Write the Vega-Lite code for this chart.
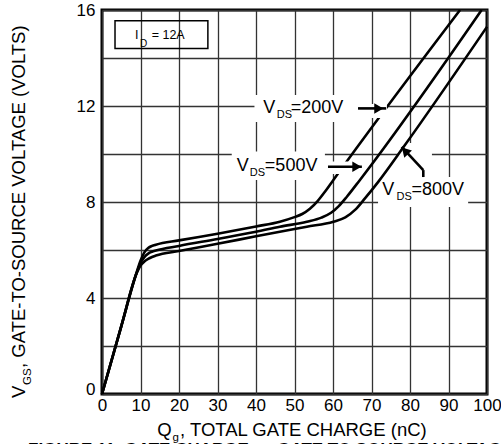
{
  "$schema": "https://vega.github.io/schema/vega-lite/v6.json",
  "width": 385,
  "height": 384,
  "autosize": {"type": "none"},
  "padding": {"left": 102, "top": 10, "right": 14, "bottom": 50},
  "config": {
    "font": "Liberation Sans",
    "view": {"stroke": "#000", "strokeWidth": 3},
    "axis": {
      "domain": false,
      "ticks": false,
      "tickSize": 0,
      "grid": true,
      "gridColor": "#333",
      "gridWidth": 1.3,
      "gridOpacity": 1,
      "labelFont": "Liberation Sans",
      "labelFontSize": 17,
      "labelColor": "#000",
      "title": null
    },
    "axisX": {"labelOverlap": false, "labelFlush": false, "labelPadding": 3},
    "axisY": {"labelOverlap": false, "labelPadding": 7}
  },
  "datasets": {
    "curves": [
      {"s": "200V", "x": 0, "y": 0}, {"s": "200V", "x": 5, "y": 2.82}, {"s": "200V", "x": 9, "y": 5.07},
      {"s": "200V", "x": 10, "y": 5.55}, {"s": "200V", "x": 11, "y": 5.9}, {"s": "200V", "x": 12, "y": 6.08},
      {"s": "200V", "x": 13, "y": 6.17}, {"s": "200V", "x": 14, "y": 6.22}, {"s": "200V", "x": 20, "y": 6.4},
      {"s": "200V", "x": 30, "y": 6.68}, {"s": "200V", "x": 40, "y": 6.98}, {"s": "200V", "x": 46.2, "y": 7.18},
      {"s": "200V", "x": 50, "y": 7.37}, {"s": "200V", "x": 52, "y": 7.5}, {"s": "200V", "x": 54, "y": 7.72},
      {"s": "200V", "x": 56, "y": 8.04}, {"s": "200V", "x": 58, "y": 8.45}, {"s": "200V", "x": 60.1, "y": 8.92},
      {"s": "200V", "x": 93.0, "y": 16},
      {"s": "500V", "x": 0, "y": 0}, {"s": "500V", "x": 5, "y": 2.82}, {"s": "500V", "x": 9, "y": 5.05},
      {"s": "500V", "x": 10, "y": 5.45}, {"s": "500V", "x": 11, "y": 5.7}, {"s": "500V", "x": 12, "y": 5.85},
      {"s": "500V", "x": 13, "y": 5.93}, {"s": "500V", "x": 14, "y": 5.98}, {"s": "500V", "x": 20, "y": 6.17},
      {"s": "500V", "x": 30, "y": 6.46}, {"s": "500V", "x": 40, "y": 6.76}, {"s": "500V", "x": 46.2, "y": 6.97},
      {"s": "500V", "x": 53.2, "y": 7.18}, {"s": "500V", "x": 57, "y": 7.35}, {"s": "500V", "x": 59.5, "y": 7.55},
      {"s": "500V", "x": 61.5, "y": 7.83}, {"s": "500V", "x": 63.6, "y": 8.22}, {"s": "500V", "x": 67.0, "y": 8.92},
      {"s": "500V", "x": 98.6, "y": 16},
      {"s": "800V", "x": 0, "y": 0}, {"s": "800V", "x": 5, "y": 2.82}, {"s": "800V", "x": 9, "y": 5.03},
      {"s": "800V", "x": 10, "y": 5.35}, {"s": "800V", "x": 11, "y": 5.52}, {"s": "800V", "x": 12, "y": 5.63},
      {"s": "800V", "x": 13, "y": 5.71}, {"s": "800V", "x": 14, "y": 5.77}, {"s": "800V", "x": 20, "y": 5.96},
      {"s": "800V", "x": 30, "y": 6.26}, {"s": "800V", "x": 40, "y": 6.57}, {"s": "800V", "x": 46.2, "y": 6.76},
      {"s": "800V", "x": 53.2, "y": 6.97}, {"s": "800V", "x": 60.1, "y": 7.18}, {"s": "800V", "x": 63.2, "y": 7.36},
      {"s": "800V", "x": 65.8, "y": 7.68}, {"s": "800V", "x": 68.3, "y": 8.15}, {"s": "800V", "x": 71.8, "y": 8.85},
      {"s": "800V", "x": 78.5, "y": 10.33}, {"s": "800V", "x": 100, "y": 15.3}
    ],
    "masksUnder": [
      {"x": 39.6, "x2": 65.2, "y": 12.46, "y2": 11.33},
      {"x": 33.7, "x2": 57.9, "y": 10.1, "y2": 8.92},
      {"x": 71.7, "x2": 95.1, "y": 9.04, "y2": 7.79},
      {"x": 76.9, "x2": 85.7, "y": 10.46, "y2": 9.04}
    ],
    "masksOver": [
      {"x": 64.9, "x2": 74.0, "y": 12.08, "y2": 11.5},
      {"x": 57.9, "x2": 67.3, "y": 9.69, "y2": 9.17}
    ],
    "box": [{"x": 3.38, "x2": 27.5, "y": 15.55, "y2": 14.4}],
    "arrows": [
      {"x": 66.5, "y": 11.9, "x2": 73.8, "y2": 11.9},
      {"x": 58.7, "y": 9.47, "x2": 67.5, "y2": 9.47},
      {"x": 83.45, "y": 9.04, "x2": 83.45, "y2": 9.33},
      {"x": 83.45, "y": 9.33, "x2": 77.84, "y2": 10.3}
    ],
    "heads": [
      {"x": 71.9, "y": 11.9},
      {"x": 66.2, "y": 9.47}
    ],
    "heads2": [{"x": 78.7, "y": 10.13}],
    "bigText": [
      {"x": 41.9, "y": 11.72, "t": "V"}, {"x": 49.0, "y": 11.72, "t": "=200V"},
      {"x": 35.0, "y": 9.30, "t": "V"}, {"x": 42.3, "y": 9.30, "t": "=500V"},
      {"x": 72.8, "y": 8.29, "t": "V"}, {"x": 80.4, "y": 8.29, "t": "=800V"}
    ],
    "subText": [
      {"x": 45.4, "y": 11.49, "t": "DS"},
      {"x": 38.4, "y": 9.08, "t": "DS"},
      {"x": 76.5, "y": 8.08, "t": "DS"}
    ],
    "boxText": [
      {"x": 8.57, "y": 14.79, "t": "I"},
      {"x": 12.9, "y": 14.79, "t": "= 12A"}
    ],
    "boxSub": [{"x": 9.87, "y": 14.47, "t": "D"}],
    "xTitle": [
      {"x": 14.36, "y": -1.75, "t": "Q"},
      {"x": 20.26, "y": -1.75, "t": ", TOTAL GATE CHARGE (nC)"}
    ],
    "xTitleSub": [{"x": 18.3, "y": -1.96, "t": "g"}],
    "yTitle": [
      {"x": -20.0, "y": -0.167, "t": "V"},
      {"x": -20.0, "y": 1.083, "t": ", GATE-TO-SOURCE  VOLTAGE (VOLTS)"}
    ],
    "yTitleSub": [{"x": -18.57, "y": 0.375, "t": "GS"}],
    "caption": [{"x": -19.2, "y": -2.55, "t": "FIGURE 11. GATE CHARGE vs GATE TO SOURCE VOLTAGE"}]
  },
  "encoding": {
    "x": {
      "field": "x", "type": "quantitative",
      "scale": {"domain": [0, 100], "nice": false},
      "axis": {
        "values": [0, 10, 20, 30, 40, 50, 60, 70, 80, 90, 100],
        "labelOverlap": false,
        "labelFlush": false,
        "labelPadding": 3
      }
    },
    "y": {
      "field": "y", "type": "quantitative",
      "scale": {"domain": [0, 16], "nice": false},
      "axis": {
        "values": [0, 2, 4, 6, 8, 10, 12, 14, 16],
        "labelExpr": "datum.value % 4 === 0 ? datum.label : ''",
        "labelBaseline": {"condition": {"test": "datum.value === 0", "value": "alphabetic"}, "value": "middle"},
        "labelPadding": 7,
        "labelOverlap": false
      }
    }
  },
  "layer": [
    {
      "data": {"name": "masksUnder"},
      "mark": {"type": "rect", "fill": "#fff", "stroke": null},
      "encoding": {"x2": {"field": "x2"}, "y2": {"field": "y2"}}
    },
    {
      "data": {"name": "curves"},
      "mark": {"type": "line", "color": "#000", "strokeWidth": 2.6, "interpolate": "monotone"},
      "encoding": {"detail": {"field": "s", "type": "nominal"}}
    },
    {
      "data": {"name": "masksOver"},
      "mark": {"type": "rect", "fill": "#fff", "stroke": null},
      "encoding": {"x2": {"field": "x2"}, "y2": {"field": "y2"}}
    },
    {
      "data": {"name": "box"},
      "mark": {"type": "rect", "fill": "transparent", "stroke": "#000", "strokeWidth": 1.5},
      "encoding": {"x2": {"field": "x2"}, "y2": {"field": "y2"}}
    },
    {
      "data": {"name": "arrows"},
      "mark": {"type": "rule", "color": "#000", "strokeWidth": 2.6},
      "encoding": {"x2": {"field": "x2"}, "y2": {"field": "y2"}}
    },
    {
      "data": {"name": "heads"},
      "mark": {"type": "point", "shape": "triangle-right", "filled": true, "color": "#000", "opacity": 1, "size": 110}
    },
    {
      "data": {"name": "heads2"},
      "mark": {"type": "point", "shape": "triangle-right", "filled": true, "color": "#000", "opacity": 1, "size": 110, "angle": 227}
    },
    {
      "data": {"name": "bigText"},
      "mark": {"type": "text", "align": "left", "baseline": "alphabetic", "fontSize": 18, "color": "#000"},
      "encoding": {"text": {"field": "t"}}
    },
    {
      "data": {"name": "subText"},
      "mark": {"type": "text", "align": "left", "baseline": "alphabetic", "fontSize": 11, "color": "#000"},
      "encoding": {"text": {"field": "t"}}
    },
    {
      "data": {"name": "boxText"},
      "mark": {"type": "text", "align": "left", "baseline": "alphabetic", "fontSize": 12.5, "color": "#000"},
      "encoding": {"text": {"field": "t"}}
    },
    {
      "data": {"name": "boxSub"},
      "mark": {"type": "text", "align": "left", "baseline": "alphabetic", "fontSize": 10, "color": "#000"},
      "encoding": {"text": {"field": "t"}}
    },
    {
      "data": {"name": "xTitle"},
      "mark": {"type": "text", "align": "left", "baseline": "alphabetic", "fontSize": 18.5, "color": "#000"},
      "encoding": {"text": {"field": "t"}}
    },
    {
      "data": {"name": "xTitleSub"},
      "mark": {"type": "text", "align": "left", "baseline": "alphabetic", "fontSize": 11.5, "color": "#000"},
      "encoding": {"text": {"field": "t"}}
    },
    {
      "data": {"name": "yTitle"},
      "mark": {"type": "text", "align": "left", "baseline": "alphabetic", "fontSize": 18.5, "angle": 270, "color": "#000"},
      "encoding": {"text": {"field": "t"}}
    },
    {
      "data": {"name": "yTitleSub"},
      "mark": {"type": "text", "align": "left", "baseline": "alphabetic", "fontSize": 11.5, "angle": 270, "color": "#000"},
      "encoding": {"text": {"field": "t"}}
    },
    {
      "data": {"name": "caption"},
      "mark": {"type": "text", "align": "left", "baseline": "alphabetic", "fontSize": 17, "fontWeight": "bold", "color": "#000"},
      "encoding": {"text": {"field": "t"}}
    }
  ]
}
